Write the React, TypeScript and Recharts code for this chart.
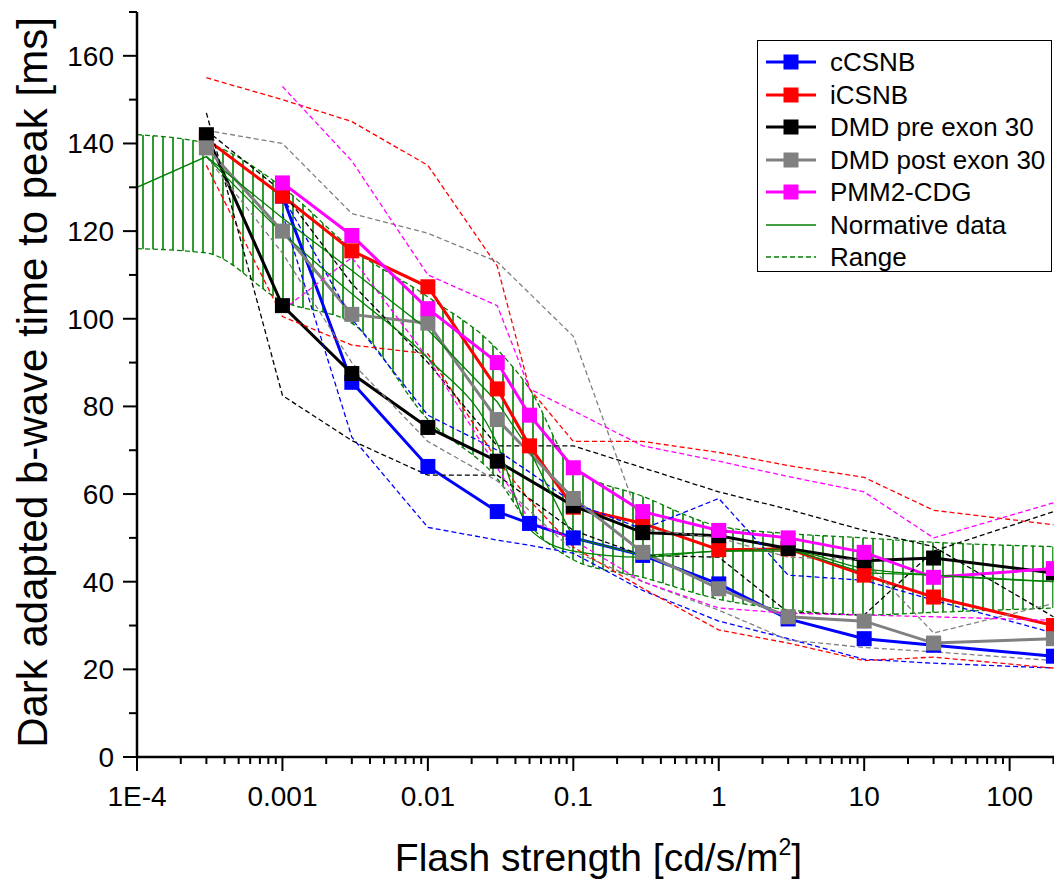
import React from 'react';
import { ComposedChart, Line, Area, XAxis, YAxis, Legend } from 'recharts';

const FONT = '"Liberation Sans", Arial, Helvetica, sans-serif';

// flash strengths [cd/s/m2] used by the patient groups
const flash = [0.0003, 0.001, 0.003, 0.01, 0.03, 0.05, 0.1, 0.3, 1, 3, 10, 30, 200];

// group means (null = not measured)
const cCSNB = [null, 128, 85.5, 66.3, 56, 53.3, 50, 46, 39.5, 31.5, 27, 25.5, 23];
const iCSNB = [141, 128, 115.5, 107.3, 84, 71, 57, 53.3, 47.3, 47.5, 41.5, 36.5, 30];
const dmdPre = [142, 103, 87.5, 75.2, 67.5, null, 57.3, 51.2, 50.5, 47.6, 44.8, 45.4, 42];
const dmdPost = [139, 120, 101, 99, 77, null, 59, 46.7, 38.4, 32, 31, 26, 27];
const pmm2 = [null, 131, 119, 102.3, 90, 78, 66, 56, 51.7, 50, 46.7, 41, 43];

// group ranges
const cCSNBMax = [null, 128, 100, 78, 70, 65, 58, 52, 59, 41.5, 40.3, 35.8, 28.3];
const cCSNBMin = [null, 124, 73, 52.4, 49.5, 48.3, 46.5, 38, 31, 27, 22.3, 21.4, 20.3];
const iCSNBMax = [155, 150, 145, 135, 112, 84, 72, 72, 69.5, 66.5, 63.8, 56.3, 53];
const iCSNBMin = [135, 100.5, 94, 92, 67.7, 58.6, 47.9, 38.5, 29, 26, 22, 22.8, 20.3];
const dmdPreMax = [143, 129, 108, 90, 71, null, 71, 66, 60.5, 56.5, 51.7, 48, 32];
const dmdPreMin = [147, 82.5, 72.2, 64.3, 64.3, null, 51.7, 46, 45.6, 33, 32.4, 47, 56];
const dmdPostMax = [143, 140, 124, 119.5, 113, null, 96, 52, 50, 45.6, 45, 28.3, 35];
const dmdPostMin = [137, 115, 90, 72, 63, null, 47, 40, 33.5, 26.7, 25, 24, 22];
const pmm2Max = [null, 153, 136, 110, 103, 84, 79, 71, 67.5, 64, 60.5, 50, 58];
const pmm2Min = [null, 102, 114, 91, 66, 54, 49.5, 40, 34, 32.8, 32.4, 32, 31.2];

// normative data
const normFlash = [0.0001, 0.0003, 0.001, 0.003, 0.01, 0.03, 0.05, 0.1, 0.3, 1, 3, 10, 30, 200];
const normMean = [130, 137, 123, 111, 97.5, 81, 70, 50, 46, 47, 47.5, 42, 41.5, 40];
const normMean2 = [null, 137, 119.6, 105.7, 91, 71.5, 52, 47, 45.6, 47, 47, 43, 41.5, 40];
const normUpper = [142, 140, 130, 116, 105, 93, 84, 66, 59.5, 52.7, 51, 50, 49, 48];
const normLower = [116, 115, 104, 99, 77, 63.5, 53, 45, 41, 36, 33.6, 32.4, 33, 34];

// axes
const xMajor = [0.0001, 0.001, 0.01, 0.1, 1, 10, 100];
const xLabels = ['1E-4', '0.001', '0.01', '0.1', '1', '10', '100'];
const xMinorSteps = [2, 3, 4, 5, 6, 7, 8, 9];
const yTicks = [0, 10, 20, 30, 40, 50, 60, 70, 80, 90, 100, 110, 120, 130, 140, 150, 160, 170];
const yLabels = [0, 20, 40, 60, 80, 100, 120, 140, 160];

const xTicks = [
  ...xMajor,
  ...xMajor.flatMap((d) => xMinorSteps.map((s) => d * s)).filter((v) => v <= 222),
].sort((a, b) => a - b);

const pts = (xs: number[], ys: (number | null)[]) =>
  xs.map((x, i) => ({ x, y: ys[i] })).filter((p) => p.y != null);

const groups = [
  { name: 'cCSNB', color: '#0000ff', mean: cCSNB, max: cCSNBMax, min: cCSNBMin },
  { name: 'iCSNB', color: '#ff0000', mean: iCSNB, max: iCSNBMax, min: iCSNBMin },
  { name: 'DMD pre exon 30', color: '#000000', mean: dmdPre, max: dmdPreMax, min: dmdPreMin },
  { name: 'DMD post exon 30', color: '#808080', mean: dmdPost, max: dmdPostMax, min: dmdPostMin },
  { name: 'PMM2-CDG', color: '#ff00ff', mean: pmm2, max: pmm2Max, min: pmm2Min },
];

const GREEN = '#008000';

const bandData = normFlash.map((x, i) => ({ x, range: [normLower[i], normUpper[i]] }));

function XTick({ x, y, payload }: any) {
  const v = payload.value;
  const idx = xMajor.indexOf(v);
  const major = idx >= 0;
  return (
    <g>
      <line x1={x} x2={x} y1={y} y2={y + (major ? 14 : 7)} stroke="#000" strokeWidth={2} />
      {major && (
        <text x={x} y={y + 49} textAnchor="middle" fontSize={28} fontFamily={FONT} fill="#000">
          {xLabels[idx]}
        </text>
      )}
    </g>
  );
}

function YTick({ x, y, payload }: any) {
  const v = payload.value;
  const major = yLabels.includes(v);
  return (
    <g>
      <line x1={x - (major ? 14 : 8)} x2={x} y1={y} y2={y} stroke="#000" strokeWidth={2} />
      {major && (
        <text x={x - 23} y={y + 10} textAnchor="end" fontSize={28} fontFamily={FONT} fill="#000">
          {v}
        </text>
      )}
    </g>
  );
}

function XTitle({ viewBox }: any) {
  const { x, y, width } = viewBox;
  return (
    <text x={x + width / 2} y={y + 114} textAnchor="middle" fontSize={39} fontFamily={FONT} fill="#000">
      Flash strength [cd/s/m
      <tspan dy={-16} fontSize={23}>2</tspan>
      <tspan dy={16}>]</tspan>
    </text>
  );
}

function YTitle({ viewBox }: any) {
  const { y, height } = viewBox;
  const cy = y + height / 2 - 2;
  return (
    <text
      x={39}
      y={cy}
      transform={`rotate(-90, 39, ${cy})`}
      textAnchor="middle"
      fontSize={42}
      fontFamily={FONT}
      fill="#000"
    >
      Dark adapted b-wave time to peak [ms]
    </text>
  );
}

function LegendBox() {
  const rows = [
    ...groups.map((g) => ({ name: g.name, color: g.color, kind: 'marker' })),
    { name: 'Normative data', color: GREEN, kind: 'solid' },
    { name: 'Range', color: GREEN, kind: 'dashed' },
  ];
  return (
    <div
      style={{
        width: 295,
        height: 232,
        boxSizing: 'border-box',
        border: '1px solid #000',
        background: '#fff',
        paddingTop: 5,
        fontFamily: FONT,
        fontSize: 26,
      }}
    >
      {rows.map((r) => (
        <div key={r.name} style={{ height: 32.5, display: 'flex', alignItems: 'center' }}>
          <svg width={72} height={20} style={{ flexShrink: 0 }}>
            {r.kind === 'marker' && (
              <>
                <line x1={8} x2={58} y1={10} y2={10} stroke={r.color} strokeWidth={3} />
                <rect x={25.5} y={2.5} width={15} height={15} fill={r.color} />
              </>
            )}
            {r.kind === 'solid' && <line x1={8} x2={58} y1={10} y2={10} stroke={r.color} strokeWidth={1.3} />}
            {r.kind === 'dashed' && (
              <line x1={8} x2={58} y1={10} y2={10} stroke={r.color} strokeWidth={1.3} strokeDasharray="5 3" />
            )}
          </svg>
          <span style={{ lineHeight: 1, whiteSpace: 'nowrap' }}>{r.name}</span>
        </div>
      ))}
    </div>
  );
}

export default function App() {
  return (
    <ComposedChart width={1054} height={873} margin={{ top: 4, right: 2, left: 0, bottom: 0 }}>
      <defs>
        <pattern id="hatch" width={10} height={10} patternUnits="userSpaceOnUse">
          <line x1={5} x2={5} y1={0} y2={10} stroke={GREEN} strokeWidth={1.6} />
        </pattern>
      </defs>
      <XAxis
        dataKey="x"
        type="number"
        scale="log"
        domain={[0.0001, 222]}
        allowDataOverflow
        ticks={xTicks}
        interval={0}
        tick={<XTick />}
        tickLine={false}
        tickSize={0}
        tickMargin={0}
        height={124}
        axisLine={{ stroke: '#000', strokeWidth: 2.5 }}
        label={<XTitle />}
      />
      <YAxis
        type="number"
        domain={[0, 170]}
        ticks={yTicks}
        interval={0}
        tick={<YTick />}
        tickLine={false}
        tickSize={0}
        tickMargin={0}
        width={129}
        axisLine={{ stroke: '#000', strokeWidth: 2.5 }}
        label={<YTitle />}
      />
      {groups.map((g) => (
        <Line
          key={g.name}
          data={pts(flash, g.mean)}
          dataKey="y"
          type="linear"
          stroke={g.color}
          strokeWidth={3}
          isAnimationActive={false}
          dot={(p: any) =>
            p.cx == null ? (
              <g key={`${g.name}-${p.index}`} />
            ) : (
              <rect key={`${g.name}-${p.index}`} x={p.cx - 7.5} y={p.cy - 7.5} width={15} height={15} fill={g.color} />
            )
          }
          activeDot={false}
        />
      ))}
      {groups.flatMap((g) => [
        <Line
          key={`${g.name}-max`}
          data={pts(flash, g.max)}
          dataKey="y"
          type="linear"
          stroke={g.color}
          strokeWidth={1.3}
          strokeDasharray="5 3"
          dot={false}
          activeDot={false}
          isAnimationActive={false}
        />,
        <Line
          key={`${g.name}-min`}
          data={pts(flash, g.min)}
          dataKey="y"
          type="linear"
          stroke={g.color}
          strokeWidth={1.3}
          strokeDasharray="5 3"
          dot={false}
          activeDot={false}
          isAnimationActive={false}
        />,
      ])}
      <Area
        data={bandData}
        dataKey="range"
        type="monotone"
        stroke={GREEN}
        strokeWidth={1.3}
        strokeDasharray="5 3"
        fill="url(#hatch)"
        fillOpacity={1}
        dot={false}
        activeDot={false}
        isAnimationActive={false}
      />
      <Line
        data={pts(normFlash, normMean)}
        dataKey="y"
        type="linear"
        stroke={GREEN}
        strokeWidth={1.3}
        dot={false}
        activeDot={false}
        isAnimationActive={false}
      />
      <Line
        data={pts(normFlash, normMean2)}
        dataKey="y"
        type="monotone"
        stroke={GREEN}
        strokeWidth={1.3}
        dot={false}
        activeDot={false}
        isAnimationActive={false}
      />
      <Legend
        layout="vertical"
        align="center"
        verticalAlign="middle"
        content={<LegendBox />}
        wrapperStyle={{ position: 'absolute', left: 749, top: 32, width: 295, height: 232 }}
      />
    </ComposedChart>
  );
}
